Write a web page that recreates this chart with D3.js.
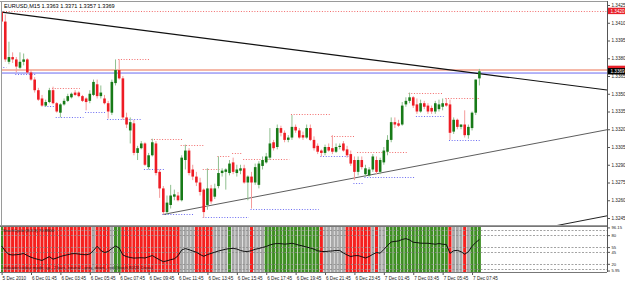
<!DOCTYPE html>
<html><head><meta charset="utf-8">
<script src="https://cdn.jsdelivr.net/npm/d3@7"></script>
<style>
html,body{margin:0;padding:0;background:#fff;overflow:hidden;}
svg{display:block;font-family:"Liberation Sans",Arial,sans-serif;}
</style></head><body>
<svg id="c" width="625" height="282"></svg>
<script>
// ---------------- DATA ----------------
const title = "EURUSD,M15  1.3363 1.3371 1.3357 1.3369";
const open = [1.3419,1.3411,1.3377,1.3381,1.3379,1.3372,1.3377,1.3379,1.3368,1.3362,
1.3353,1.3346,1.3340,1.3343,1.3353,1.3342,1.3334,1.3341,1.3344,1.3347,
1.3351,1.3351,1.3348,1.3346,1.3344,1.3349,1.3358,1.3348,1.3346,1.3342,
1.3334,1.3359,1.3370,1.3363,1.3330,1.3319,1.3325,1.3300,1.3304,1.3308,
1.3288,1.3298,1.3308,1.3284,1.3270,1.3250,1.3256,1.3263,1.3264,1.3260,
1.3294,1.3302,1.3286,1.3280,1.3275,1.3269,1.3256,1.3270,1.3263,1.3272,
1.3283,1.3284,1.3283,1.3292,1.3283,1.3285,1.3287,1.3275,1.3280,1.3275,
1.3273,1.3289,1.3292,1.3296,1.3309,1.3305,1.3321,1.3317,1.3311,1.3313,
1.3322,1.3319,1.3315,1.3313,1.3321,1.3311,1.3306,1.3302,1.3300,1.3305,
1.3304,1.3301,1.3305,1.3308,1.3303,1.3299,1.3294,1.3284,1.3294,1.3282,
1.3281,1.3286,1.3294,1.3284,1.3292,1.3301,1.3311,1.3326,1.3325,1.3324,
1.3341,1.3344,1.3347,1.3341,1.3335,1.3342,1.3340,1.3338,1.3335,1.3337,
1.3339,1.3342,1.3341,1.3318,1.3328,1.3322,1.3324,1.3315,1.3321,1.3334,
1.3363];
const high = [1.3420,1.3417,1.3394,1.3385,1.3381,1.3385,1.3384,1.3380,1.3370,1.3364,
1.3355,1.3349,1.3345,1.3355,1.3356,1.3343,1.3342,1.3346,1.3350,1.3351,
1.3353,1.3352,1.3349,1.3347,1.3353,1.3362,1.3362,1.3357,1.3349,1.3344,
1.3362,1.3379,1.3379,1.3365,1.3334,1.3330,1.3328,1.3306,1.3310,1.3309,
1.3300,1.3312,1.3310,1.3286,1.3272,1.3264,1.3273,1.3269,1.3267,1.3298,
1.3307,1.3304,1.3290,1.3284,1.3279,1.3270,1.3287,1.3273,1.3274,1.3297,
1.3287,1.3287,1.3294,1.3296,1.3290,1.3290,1.3290,1.3281,1.3284,1.3291,
1.3293,1.3297,1.3300,1.3321,1.3311,1.3324,1.3323,1.3319,1.3315,1.3332,
1.3324,1.3321,1.3318,1.3324,1.3324,1.3314,1.3308,1.3303,1.3307,1.3308,
1.3315,1.3308,1.3308,1.3310,1.3306,1.3302,1.3297,1.3297,1.3297,1.3290,
1.3288,1.3299,1.3297,1.3296,1.3305,1.3315,1.3330,1.3330,1.3328,1.3343,
1.3347,1.3351,1.3348,1.3346,1.3345,1.3344,1.3342,1.3340,1.3344,1.3345,
1.3346,1.3346,1.3345,1.3330,1.3329,1.3324,1.3336,1.3324,1.3335,1.3362,
1.3371];
const low = [1.3409,1.3377,1.3375,1.3376,1.3368,1.3371,1.3374,1.3367,1.3361,1.3351,
1.3344,1.3339,1.3339,1.3342,1.3341,1.3334,1.3330,1.3340,1.3343,1.3346,
1.3348,1.3347,1.3343,1.3336,1.3342,1.3348,1.3346,1.3346,1.3341,1.3329,
1.3332,1.3357,1.3362,1.3328,1.3321,1.3308,1.3298,1.3294,1.3303,1.3289,
1.3286,1.3297,1.3281,1.3262,1.3248,1.3248,1.3253,1.3260,1.3259,1.3259,
1.3286,1.3281,1.3277,1.3272,1.3264,1.3245,1.3252,1.3257,1.3261,1.3270,
1.3280,1.3269,1.3281,1.3282,1.3280,1.3282,1.3274,1.3260,1.3253,1.3273,
1.3270,1.3286,1.3291,1.3294,1.3302,1.3303,1.3314,1.3309,1.3309,1.3311,
1.3317,1.3312,1.3311,1.3312,1.3310,1.3302,1.3299,1.3297,1.3298,1.3301,
1.3299,1.3300,1.3303,1.3301,1.3296,1.3289,1.3277,1.3281,1.3286,1.3280,
1.3280,1.3284,1.3282,1.3282,1.3290,1.3298,1.3309,1.3321,1.3322,1.3323,
1.3339,1.3342,1.3338,1.3333,1.3334,1.3337,1.3333,1.3333,1.3333,1.3335,
1.3336,1.3339,1.3311,1.3316,1.3320,1.3320,1.3313,1.3312,1.3319,1.3332,
1.3357];
const close = [1.3411,1.3379,1.3381,1.3379,1.3373,1.3377,1.3379,1.3368,1.3362,1.3353,
1.3345,1.3340,1.3343,1.3353,1.3342,1.3335,1.3341,1.3344,1.3348,1.3350,
1.3349,1.3348,1.3344,1.3343,1.3350,1.3360,1.3348,1.3351,1.3342,1.3335,
1.3360,1.3370,1.3363,1.3330,1.3324,1.3326,1.3300,1.3304,1.3308,1.3290,
1.3298,1.3309,1.3283,1.3270,1.3250,1.3258,1.3264,1.3265,1.3260,1.3296,
1.3302,1.3283,1.3280,1.3275,1.3267,1.3250,1.3270,1.3259,1.3270,1.3283,
1.3285,1.3286,1.3291,1.3284,1.3286,1.3287,1.3275,1.3280,1.3275,1.3288,
1.3291,1.3294,1.3297,1.3308,1.3304,1.3321,1.3317,1.3311,1.3313,1.3322,
1.3319,1.3313,1.3313,1.3321,1.3311,1.3304,1.3301,1.3300,1.3305,1.3302,
1.3301,1.3305,1.3306,1.3302,1.3298,1.3291,1.3284,1.3294,1.3288,1.3287,
1.3286,1.3297,1.3284,1.3294,1.3302,1.3311,1.3326,1.3324,1.3323,1.3340,
1.3344,1.3347,1.3340,1.3335,1.3342,1.3339,1.3335,1.3335,1.3342,1.3341,
1.3342,1.3340,1.3317,1.3328,1.3322,1.3324,1.3315,1.3322,1.3334,1.3362,
1.3369];
// oscillator (lower window)
const osc = [57.3,46.8,39.5,38.5,39.1,39.9,41.6,37.4,33.7,31.2,
29.1,27.0,31.2,34.9,29.7,32.2,35.3,37.4,39.1,41.0,
41.4,40.4,39.5,38.9,40.6,47.9,56.7,47.9,43.7,45.8,
52.1,57.3,53.1,38.5,35.1,33.2,32.0,32.4,32.8,32.2,
34.7,37.4,32.6,28.4,24.5,26.3,28.6,30.5,36.8,48.9,
51.9,49.6,46.8,44.3,39.5,35.8,39.3,41.8,44.3,46.8,
48.7,50.6,51.9,52.3,51.0,47.9,46.0,45.8,47.7,50.4,
52.1,54.2,56.3,59.4,61.5,62.5,62.1,61.1,61.9,63.0,
61.1,58.8,57.3,55.0,53.1,50.6,47.3,46.0,45.6,46.4,
47.0,47.9,47.9,42.7,38.5,35.3,37.0,37.2,34.9,32.2,
35.3,39.9,43.7,42.2,50.0,58.3,65.7,66.9,67.8,70.9,
72.8,69.9,65.0,64.4,63.2,63.0,63.0,62.1,60.9,62.5,
60.9,60.4,42.0,47.3,48.1,45.4,40.1,45.2,56.5,64.6,
70.9];
// per-bar state of the colour histogram: g = up, r = down, n = neutral
const oscState = ("g" + "rrrrrrrrrrrrrrrrrrrrrrrr" + "n" + "rrrr" + "n" + "gg" +
  "rrrrrrrrrrrrrrrr" + "nnnn" + "rrrrr" + "nnnn" + "g" + "nnnnn" + "r" + "nnn" +
  "ggggggggggggggg" + "r" + "nnnnnn" + "rrrrrrr" + "n" + "r" + "nn" +
  "ggggggggggggggggg" + "r" + "nnn" + "r" + "n" + "ggg").split("");
const oscLevels = [90, 80, 55, 45, 20, 10];
const oscTickLabels = ["96.15", "80", "55", "45", "20", "5.95"];
const oscTickValues = [96.15, 80, 55, 45, 20, 5.95];

// price axis
const priceTicks = [1.3425,1.3410,1.3395,1.3380,1.3365,1.3350,1.3335,1.3320,1.3305,1.3290,1.3275,1.3260,1.3245];
// time axis (bar index -> label)
const timeTickIdx = [0,8,16,24,32,40,48,56,64,72,80,88,96,104,112,120,128];
const timeTickLabels = ["5 Dec 2010","6 Dec 01:45","6 Dec 03:45","6 Dec 05:45","6 Dec 07:45","6 Dec 09:45",
 "6 Dec 11:45","6 Dec 13:45","6 Dec 15:45","6 Dec 17:45","6 Dec 19:45","6 Dec 21:45","6 Dec 23:45",
 "7 Dec 01:45","7 Dec 03:45","7 Dec 05:45","7 Dec 07:45"];

// fractal resistance (red dotted) and support (blue dotted) levels: price, from bar, to bar
const resPrice = [1.3420,1.3379,1.3355,1.3312,1.3307,1.3286,1.3297,1.3300,1.3295,1.3333,1.3314,1.3301,1.3351,1.3346];
const resFrom  = [0,32,14,41,49,55,59,63,66,79,90,97,111,121];
const resTo    = [165,40,21,49,55,59,62,65,78,89,96,110,120,130];
const supPrice = [1.3373,1.3367,1.3340,1.3330,1.3335,1.3329,1.3286,1.3248,1.3246,1.3253,1.3297,1.3275,1.3280,1.3331,1.3311];
const supFrom  = [0,4,12,15,23,29,39,44,55,68,87,96,99,113,122];
const supTo    = [1,9,14,22,28,38,44,52,67,86,95,98,112,120,130];

// trend lines: two anchor points each (bar index, price), extended to the right
const trendA = [[0,1.3419],[130,1.3367]];
const trendB = [[44,1.3248],[130,1.3299]];
const trendC = [[100,1.3208],[130,1.3226]];

// horizontal lines
const hLinePink = 1.3370;
const hLineBlue = 1.33675;
const lastPrice = 1.3369;
const dayHighLabel = 1.3371;
const topLevelLabel = 1.3420;

const oscTopText = "StochCycle (8,3,3) 70.8900";
const oscBottomText = "indicator colour mode: up - 2 bars, neutral - grey, down - red (Stoch 80/20 Cross)";

// ---------------- DRAW ----------------
const svg = d3.select("#c");
const N = open.length;
const AXX = 607;                  // right price axis x
const mainTop = 1, mainBot = 225;
const oscTop = 227, oscBot = 272;

const x = d3.scaleLinear().domain([0, 130]).range([1.6, 479.4]);
const y = d3.scaleLinear().domain([1.3245, 1.3425]).range([218, 5]);
const yo = d3.scaleLinear().domain([5, 97]).range([271, 227]);
const xMaxIdx = x.invert(AXX);

const defs = svg.append("defs");
defs.append("clipPath").attr("id","mc").append("rect")
  .attr("x",1).attr("y",mainTop).attr("width",AXX-1).attr("height",mainBot-mainTop);
defs.append("clipPath").attr("id","oc").append("rect")
  .attr("x",1).attr("y",oscTop).attr("width",AXX-1).attr("height",oscBot-oscTop);

svg.append("rect").attr("width",625).attr("height",282).attr("fill","#fff");

const gm = svg.append("g").attr("clip-path","url(#mc)");

// dotted levels
function dotted(prices, froms, tos, color){
  gm.append("g").selectAll("line").data(prices).join("line")
    .attr("x1",(d,i)=>x(froms[i])-1).attr("x2",(d,i)=>Math.min(x(tos[i])+1, AXX))
    .attr("y1",d=>Math.round(y(d))+0.5).attr("y2",d=>Math.round(y(d))+0.5)
    .attr("stroke",color).attr("stroke-width",1).attr("stroke-dasharray","1,1.7");
}
dotted(resPrice, resFrom, resTo, "#f26b6b");
dotted(supPrice, supFrom, supTo, "#6b6bf2");

// horizontal lines
gm.append("line").attr("x1",1).attr("x2",AXX).attr("y1",y(hLinePink)).attr("y2",y(hLinePink))
  .attr("stroke","#f5b8a8").attr("stroke-width",2);
gm.append("line").attr("x1",1).attr("x2",AXX).attr("y1",y(hLineBlue)).attr("y2",y(hLineBlue))
  .attr("stroke","#6a6af0").attr("stroke-width",1);

// trend lines (rays)
function ray(pts, w, col){
  const [a,b] = pts;
  const slope = (b[1]-a[1])/(b[0]-a[0]);
  const endIdx = xMaxIdx;
  gm.append("line").attr("x1",x(a[0])).attr("y1",y(a[1]))
    .attr("x2",x(endIdx)).attr("y2",y(a[1]+slope*(endIdx-a[0])))
    .attr("stroke",col).attr("stroke-width",w);
}
ray(trendA, 1.1, "#111");
ray(trendB, 0.8, "#333");
ray(trendC, 1.0, "#222");

// candles
const idx = d3.range(N);
const up = i => close[i] >= open[i];
const cg = gm.append("g");
cg.selectAll("line.w").data(idx).join("line")
  .attr("x1",i=>x(i)).attr("x2",i=>x(i))
  .attr("y1",i=>y(high[i])).attr("y2",i=>y(low[i]))
  .attr("stroke",i=>up(i)?"#8fbf8f":"#f49a9a").attr("stroke-width",1);
cg.selectAll("rect.b").data(idx).join("rect")
  .attr("x",i=>x(i)-1.3).attr("width",2.6)
  .attr("y",i=>y(Math.max(open[i],close[i])))
  .attr("height",i=>Math.max(0.8, Math.abs(y(open[i])-y(close[i]))))
  .attr("fill",i=>up(i)?"#177a17":"#ee1c24");

// title
svg.append("text").attr("x",4).attr("y",8).attr("font-size",5.6).attr("fill","#000").text(title);

// frames
svg.append("line").attr("x1",0).attr("x2",AXX).attr("y1",1.5).attr("y2",1.5).attr("stroke","#9a9a9a");
svg.append("line").attr("x1",1.5).attr("x2",1.5).attr("y1",1).attr("y2",oscBot).attr("stroke","#9a9a9a");
svg.append("line").attr("x1",0).attr("x2",AXX).attr("y1",mainBot+0.5).attr("y2",mainBot+0.5).attr("stroke","#9a9a9a");
svg.append("line").attr("x1",AXX+0.5).attr("x2",AXX+0.5).attr("y1",1).attr("y2",oscBot).attr("stroke","#555");

// price axis
const ya = d3.axisRight(y).tickValues(priceTicks).tickFormat(d3.format(".4f")).tickSize(2.5).tickPadding(1.5);
const gya = svg.append("g").attr("transform",`translate(${AXX+0.5},0)`).call(ya);
gya.select(".domain").remove();
gya.selectAll("line").attr("stroke","#555");
gya.selectAll("text").attr("font-size",4.6).attr("fill","#222").attr("font-family","Liberation Sans, Arial, sans-serif");

// price labels (boxes)
function priceBox(p, bg, fg, withText){
  const g = svg.append("g").attr("transform",`translate(${AXX+1},${y(p)})`);
  g.append("rect").attr("x",0).attr("y",-3.2).attr("width",17).attr("height",6.4).attr("fill",bg);
  if (withText) g.append("text").attr("x",2.5).attr("y",1.8).attr("font-size",4.6).attr("fill",fg).text(d3.format(".4f")(p));
}
priceBox(topLevelLabel, "#e8202a", "#fff", true);
priceBox(dayHighLabel, "#e8202a", "#fff", false);   // mostly hidden under the last-price box
priceBox(lastPrice, "#000", "#fff", true);

// ---------------- oscillator window ----------------
const go = svg.append("g").attr("clip-path","url(#oc)");
const stateCol = {g:"#3f8f24", r:"#f5201e", n:"#a9a9a9"};
go.selectAll("rect.h").data(idx).join("rect")
  .attr("x",i=>x(i)-1.55).attr("width",3.05)
  .attr("y",oscTop).attr("height",oscBot-oscTop)
  .attr("fill",i=>stateCol[oscState[i]]);
go.selectAll("line.lv").data(oscLevels).join("line")
  .attr("x1",1).attr("x2",AXX).attr("y1",d=>Math.round(yo(d))+0.5).attr("y2",d=>Math.round(yo(d))+0.5)
  .attr("stroke","#8c8c8c").attr("stroke-width",0.8).attr("stroke-dasharray","2,1.5");
go.append("path").datum(idx)
  .attr("d", d3.line().x(i=>x(i)).y(i=>yo(osc[i])))
  .attr("fill","none").attr("stroke","#111").attr("stroke-width",1);
go.append("text").attr("x",3).attr("y",oscTop+4.5).attr("font-size",4.2).attr("fill","#222").text(oscTopText);
go.append("text").attr("x",3).attr("y",oscBot-3).attr("font-size",4.2).attr("fill","#222").text(oscBottomText);

svg.append("line").attr("x1",0).attr("x2",AXX).attr("y1",oscTop-0.5).attr("y2",oscTop-0.5).attr("stroke","#777");
svg.append("line").attr("x1",0).attr("x2",AXX).attr("y1",oscBot+0.5).attr("y2",oscBot+0.5).attr("stroke","#777");

const yoa = d3.axisRight(yo).tickValues(oscTickValues).tickFormat((d,i)=>oscTickLabels[i]).tickSize(2.5).tickPadding(1.5);
const gyo = svg.append("g").attr("transform",`translate(${AXX+0.5},0)`).call(yoa);
gyo.select(".domain").remove();
gyo.selectAll("line").attr("stroke","#555");
gyo.selectAll("text").attr("font-size",4.2).attr("fill","#222").attr("font-family","Liberation Sans, Arial, sans-serif");

// time axis
const xa = d3.axisBottom(x).tickValues(timeTickIdx).tickFormat((d,i)=>timeTickLabels[i]).tickSize(2.5).tickPadding(1.5);
const gxa = svg.append("g").attr("transform",`translate(0,${oscBot+0.5})`).call(xa);
gxa.select(".domain").remove();
gxa.selectAll("line").attr("stroke","#555");
gxa.selectAll("text").attr("font-size",4.6).attr("fill","#222").attr("text-anchor","start")
  .attr("dx",0.5).attr("font-family","Liberation Sans, Arial, sans-serif");
</script>
</body></html>
